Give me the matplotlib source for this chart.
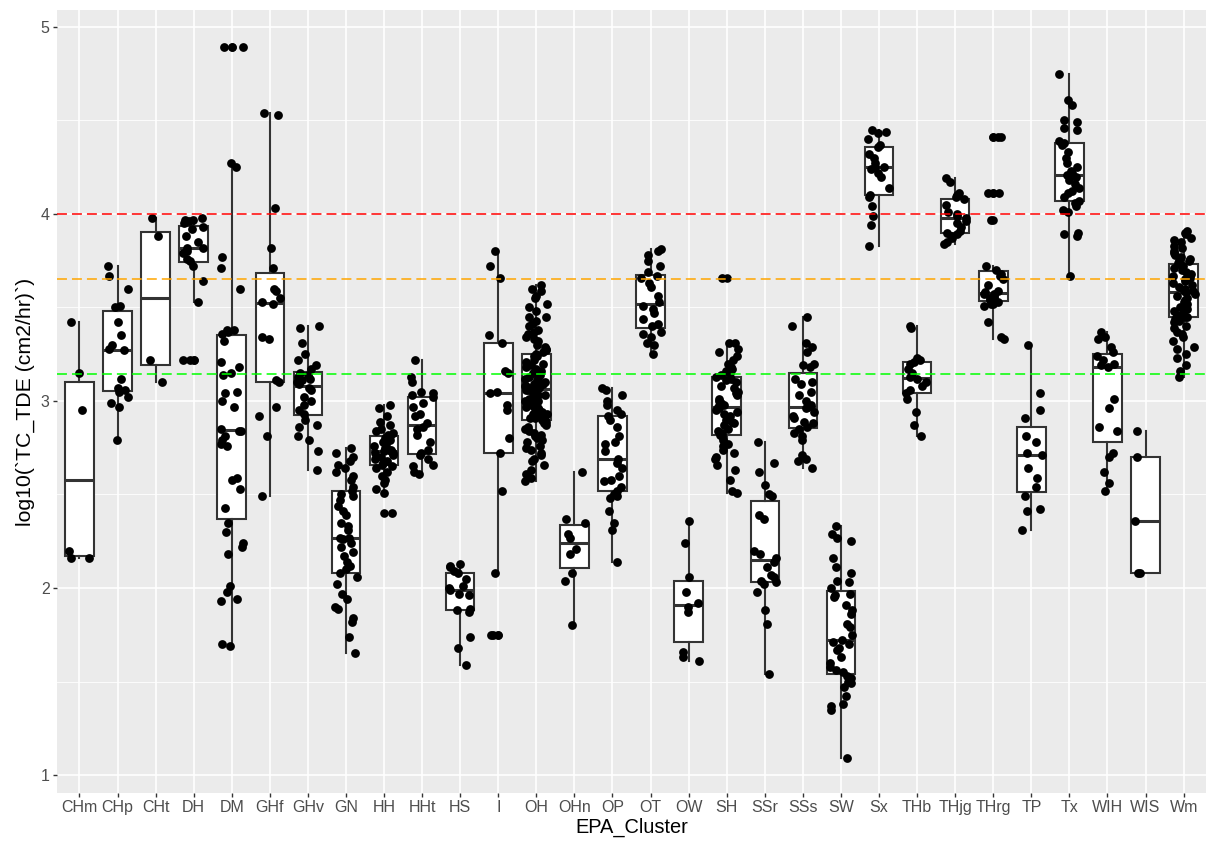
import numpy as np
import matplotlib
matplotlib.use('Agg')
import matplotlib.pyplot as plt

# log10(TC_TDE) values, one list per EPA cluster
chm = [3.42, 3.15, 2.95, 2.20, 2.16, 2.16]
chp = [3.72, 3.67, 3.60, 3.51, 3.50, 3.42, 3.35, 3.30, 3.28, 3.27, 3.12, 3.07, 3.06, 3.05, 3.02, 2.99, 2.97, 2.79]
cht = [3.98, 3.88, 3.22, 3.10]
dh = [3.98, 3.97, 3.97, 3.96, 3.95, 3.93, 3.92, 3.88, 3.85, 3.82, 3.82, 3.80, 3.79, 3.76, 3.75, 3.72, 3.64, 3.53, 3.22, 3.22]
dm = [4.89, 4.89, 4.27, 4.25, 3.77, 3.71, 3.60, 3.38, 3.38, 3.37, 3.36, 3.32, 3.21, 3.18, 3.15, 3.14, 3.05, 3.04,
      3.00, 2.97, 2.84, 2.85, 2.84, 2.81, 2.79, 2.77, 2.76, 2.59, 2.58, 2.53, 2.43, 2.35, 2.30, 2.24, 2.22, 2.18,
      2.01, 1.98, 1.94, 1.93, 1.70, 1.69]
ghf = [4.54, 4.53, 4.03, 3.82, 3.71, 3.60, 3.59, 3.55, 3.53, 3.52, 3.34, 3.33, 3.11, 3.10, 2.97, 2.92, 2.81, 2.49]
ghv = [3.40, 3.39, 3.31, 3.25, 3.22, 3.19, 3.17, 3.15, 3.14, 3.13, 3.12, 3.11, 3.10, 3.09, 3.07, 3.06, 3.02, 3.00,
       2.98, 2.95, 2.93, 2.90, 2.87, 2.86, 2.81, 2.79, 2.73, 2.63]
gn = [2.75, 2.72, 2.70, 2.68, 2.66, 2.64, 2.62, 2.60, 2.58, 2.54, 2.52, 2.50, 2.49, 2.47, 2.44, 2.41, 2.39, 2.35,
      2.33, 2.31, 2.27, 2.27, 2.26, 2.24, 2.22, 2.19, 2.17, 2.14, 2.12, 2.10, 2.08, 2.06, 2.02, 1.97, 1.94, 1.90,
      1.89, 1.84, 1.82, 1.74, 1.65]
hh = [2.98, 2.96, 2.92, 2.89, 2.87, 2.85, 2.84, 2.83, 2.82, 2.81, 2.80, 2.79, 2.78, 2.77, 2.76, 2.75, 2.74, 2.74,
      2.73, 2.73, 2.72, 2.72, 2.71, 2.70, 2.69, 2.68, 2.67, 2.66, 2.65, 2.64, 2.62, 2.60, 2.58, 2.56, 2.53, 2.51, 2.40]
hht = [3.22, 3.13, 3.10, 3.05, 3.04, 3.03, 3.02, 2.99, 2.97, 2.93, 2.92, 2.88, 2.86, 2.85, 2.82, 2.78, 2.74, 2.72,
       2.71, 2.69, 2.66, 2.65, 2.62, 2.61]
hs = [2.13, 2.12, 2.11, 2.09, 2.08, 2.05, 2.01, 2.00, 1.99, 1.97, 1.96, 1.89, 1.88, 1.87, 1.74, 1.68, 1.59]
i_ = [3.80, 3.72, 3.66, 3.35, 3.31, 3.16, 3.15, 3.05, 3.04, 2.98, 2.95, 2.80, 2.72, 2.52, 2.08, 1.75, 1.75]
oh = [3.62, 3.60, 3.59, 3.56, 3.55, 3.52, 3.50, 3.48, 3.45, 3.45, 3.43, 3.41, 3.40, 3.38, 3.37, 3.36, 3.34, 3.33,
      3.32, 3.30, 3.29, 3.28, 3.27, 3.26, 3.25, 3.24, 3.24, 3.22, 3.21, 3.20, 3.19, 3.18, 3.17, 3.16, 3.15, 3.15,
      3.14, 3.13, 3.12, 3.11, 3.11, 3.10, 3.09, 3.09, 3.08, 3.08, 3.07, 3.07, 3.06, 3.06, 3.05, 3.04, 3.03, 3.03,
      3.02, 3.01, 3.00, 3.00, 2.99, 2.98, 2.97, 2.97, 2.96, 2.95, 2.94, 2.93, 2.93, 2.92, 2.91, 2.91, 2.90, 2.90,
      2.89, 2.88, 2.87, 2.86, 2.85, 2.84, 2.83, 2.82, 2.81, 2.80, 2.79, 2.78, 2.76, 2.75, 2.74, 2.72, 2.71, 2.69,
      2.68, 2.66, 2.63, 2.61, 2.59, 2.57]
ohn = [2.62, 2.37, 2.35, 2.29, 2.27, 2.21, 2.18, 2.08, 2.04, 1.80]
op = [3.07, 3.06, 3.03, 3.00, 2.98, 2.95, 2.93, 2.92, 2.90, 2.86, 2.81, 2.78, 2.77, 2.73, 2.69, 2.67, 2.64, 2.60,
      2.58, 2.57, 2.54, 2.52, 2.50, 2.49, 2.48, 2.41, 2.35, 2.31, 2.14]
ot = [3.81, 3.80, 3.78, 3.75, 3.72, 3.69, 3.67, 3.66, 3.63, 3.61, 3.56, 3.53, 3.51, 3.49, 3.47, 3.44, 3.41, 3.40,
      3.37, 3.36, 3.34, 3.31, 3.30, 3.25]
ow = [2.36, 2.24, 2.06, 1.98, 1.92, 1.90, 1.87, 1.66, 1.63, 1.61]
sh = [3.66, 3.31, 3.31, 3.28, 3.26, 3.24, 3.22, 3.20, 3.18, 3.17, 3.16, 3.15, 3.14, 3.13, 3.12, 3.11, 3.10, 3.08,
      3.07, 3.05, 3.04, 3.03, 3.01, 3.00, 2.99, 2.98, 2.97, 2.96, 2.95, 2.94, 2.93, 2.92, 2.90, 2.89, 2.88, 2.87,
      2.85, 2.84, 2.83, 2.82, 2.81, 2.79, 2.77, 2.76, 2.74, 2.72, 2.70, 2.69, 2.66, 2.63, 2.58, 2.52, 2.51]
ssr = [2.78, 2.67, 2.62, 2.55, 2.50, 2.49, 2.39, 2.37, 2.20, 2.18, 2.16, 2.14, 2.11, 2.07, 2.06, 2.04, 2.03, 2.02,
       1.98, 1.88, 1.81, 1.54]
sss = [3.45, 3.40, 3.31, 3.29, 3.26, 3.20, 3.19, 3.18, 3.12, 3.10, 3.09, 3.05, 3.03, 3.00, 2.98, 2.97, 2.96, 2.94,
       2.92, 2.91, 2.89, 2.88, 2.86, 2.85, 2.83, 2.81, 2.79, 2.71, 2.69, 2.68, 2.64]
sw = [2.33, 2.29, 2.27, 2.25, 2.16, 2.11, 2.08, 2.04, 2.03, 2.00, 1.97, 1.96, 1.95, 1.91, 1.88, 1.86, 1.81, 1.79,
      1.75, 1.72, 1.71, 1.70, 1.68, 1.67, 1.63, 1.60, 1.58, 1.56, 1.55, 1.53, 1.52, 1.50, 1.49, 1.47, 1.42, 1.38,
      1.37, 1.35, 1.09]
sx = [4.45, 4.44, 4.43, 4.40, 4.37, 4.36, 4.32, 4.30, 4.27, 4.25, 4.25, 4.24, 4.22, 4.20, 4.14, 4.10, 4.09, 4.04,
      3.99, 3.94, 3.83]
thb = [3.40, 3.39, 3.23, 3.22, 3.21, 3.20, 3.17, 3.15, 3.13, 3.12, 3.10, 3.08, 3.06, 3.04, 3.01, 2.94, 2.87, 2.81]
thjg = [4.19, 4.17, 4.11, 4.10, 4.09, 4.08, 4.05, 4.01, 4.00, 3.99, 3.98, 3.96, 3.95, 3.93, 3.91, 3.90, 3.89, 3.88,
        3.87, 3.85, 3.84]
thrg = [4.41, 4.41, 4.11, 4.11, 3.97, 3.72, 3.70, 3.68, 3.67, 3.65, 3.62, 3.59, 3.58, 3.57, 3.57, 3.56, 3.55, 3.55,
        3.54, 3.53, 3.52, 3.52, 3.51, 3.42, 3.34, 3.33]
tp = [3.30, 3.04, 2.95, 2.91, 2.81, 2.78, 2.72, 2.71, 2.64, 2.59, 2.54, 2.49, 2.42, 2.41, 2.31]
tx = [4.75, 4.61, 4.58, 4.50, 4.49, 4.46, 4.45, 4.39, 4.38, 4.37, 4.33, 4.30, 4.27, 4.25, 4.23, 4.22, 4.21, 4.20,
      4.18, 4.16, 4.14, 4.12, 4.11, 4.09, 4.07, 4.06, 4.04, 4.02, 4.01, 3.90, 3.89, 3.88, 3.67]
wih = [3.37, 3.34, 3.33, 3.29, 3.26, 3.24, 3.22, 3.20, 3.19, 3.18, 3.01, 2.96, 2.86, 2.84, 2.72, 2.70, 2.62, 2.56, 2.52]
wis = [2.84, 2.70, 2.36, 2.08, 2.08]
wm = [3.91, 3.90, 3.89, 3.87, 3.86, 3.85, 3.83, 3.82, 3.80, 3.79, 3.78, 3.77, 3.76, 3.75, 3.75, 3.74,
      3.73, 3.72, 3.71, 3.70, 3.69, 3.68, 3.67, 3.66, 3.65, 3.64, 3.63, 3.62, 3.61, 3.60, 3.59, 3.59,
      3.58, 3.57, 3.56, 3.55, 3.54, 3.53, 3.52, 3.51, 3.50, 3.49, 3.48, 3.47, 3.47, 3.46, 3.45, 3.45,
      3.44, 3.43, 3.42, 3.40, 3.39, 3.37, 3.36, 3.34, 3.32, 3.29, 3.28, 3.25, 3.23, 3.19, 3.16, 3.13]

clusters = ['CHm', 'CHp', 'CHt', 'DH', 'DM', 'GHf', 'GHv', 'GN', 'HH', 'HHt', 'HS', 'I', 'OH', 'OHn', 'OP',
            'OT', 'OW', 'SH', 'SSr', 'SSs', 'SW', 'Sx', 'THb', 'THjg', 'THrg', 'TP', 'Tx', 'WIH', 'WIS', 'Wm']
groups = [chm, chp, cht, dh, dm, ghf, ghv, gn, hh, hht, hs, i_, oh, ohn, op,
          ot, ow, sh, ssr, sss, sw, sx, thb, thjg, thrg, tp, tx, wih, wis, wm]

# reference thresholds (log10 of 10000, 4500, 1400)
ref_lines = [(np.log10(10000), 'red'), (np.log10(4500), 'orange'), (np.log10(1400), '#00FF00')]

plt.rcParams['font.family'] = ['Liberation Sans', 'DejaVu Sans']

fig = plt.figure(figsize=(12.09, 8.43), dpi=100)
ax = fig.add_axes([0.0468, 0.0593, 0.9511, 0.9288])
ax.set_facecolor('#EBEBEB')
for s in ax.spines.values():
    s.set_visible(False)

pos = np.arange(len(clusters))

ax.boxplot(groups, positions=pos, widths=0.75, patch_artist=True, whis=1.5, manage_ticks=False,
           boxprops=dict(facecolor='white', edgecolor='#333333', linewidth=1.5),
           whiskerprops=dict(color='#333333', linewidth=1.5),
           capprops=dict(linewidth=0),
           medianprops=dict(color='#333333', linewidth=2.2),
           flierprops=dict(marker='o', markerfacecolor='black', markeredgecolor='black',
                           markersize=6.2, markeredgewidth=0),
           zorder=2)

# jittered points, like geom_jitter
rng = np.random.default_rng(11)
for k, vals in enumerate(groups):
    xj = k + rng.uniform(-0.3, 0.3, len(vals))
    ax.scatter(xj, vals, s=40, color='black', linewidths=0, zorder=3)

for yv, col in ref_lines:
    ax.axhline(yv, color=col, linestyle=(0, (6.5, 3.3)), linewidth=1.1, zorder=4)

# ggplot-like grid and ticks
ax.set_xticks(pos, clusters)
ax.set_yticks([1, 2, 3, 4, 5], ['1', '2', '3', '4', '5'])
ax.set_yticks([1.5, 2.5, 3.5, 4.5], minor=True)
ax.grid(which='major', color='white', linewidth=1.2)
ax.grid(which='minor', axis='y', color='white', linewidth=0.6)
ax.set_axisbelow(True)

ax.set_xlim(-0.6, len(clusters) - 0.4)
ax.set_ylim(0.904, 5.09)
ax.tick_params(axis='both', which='major', length=3, width=1, color='#333333',
               labelcolor='#4D4D4D', labelsize=11.5, pad=2)
ax.tick_params(axis='y', which='minor', length=0)
ax.set_xlabel('EPA_Cluster', fontsize=14.4, labelpad=2)
ax.set_ylabel('log10(`TC_TDE (cm2/hr)`)', fontsize=15.3, labelpad=4)

fig.savefig('out.png', dpi=100)
